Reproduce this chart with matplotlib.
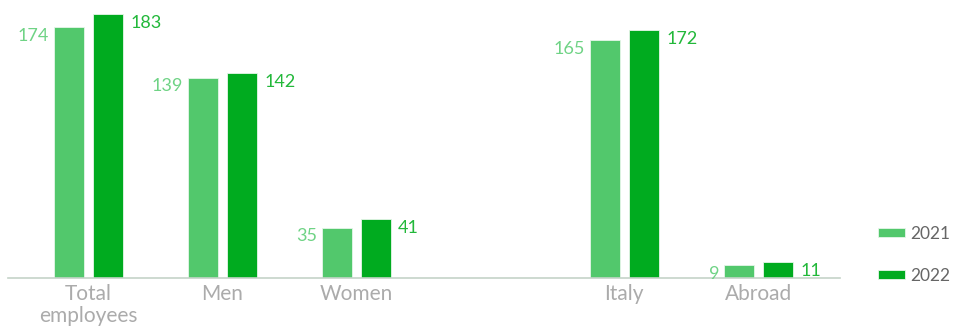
import matplotlib.pyplot as plt
import numpy as np

# headcount by category
categories = ["Total\nemployees", "Men", "Women", "Italy", "Abroad"]
values_2021 = [174, 139, 35, 165, 9]
values_2022 = [183, 142, 41, 172, 11]
years = ["2021", "2022"]

c21 = "#52c86c"
c22 = "#00ab1f"
lab21 = "#6fd385"
lab22 = "#22b83a"

plt.rcParams['font.family'] = ['Lato', 'DejaVu Sans']

fig = plt.figure(figsize=(9.56, 3.36), dpi=100)
ax = fig.add_axes([8 / 956, 58 / 336, 832 / 956, 274 / 336])

# leave an empty slot between the gender and location groups
pos = np.array([0, 1, 2, 4, 5])
w = 0.224
off = 0.145

b1 = ax.bar(pos - off, values_2021, w, color=c21, edgecolor="#e6f6e9", linewidth=0.6, label=years[0])
b2 = ax.bar(pos + off, values_2022, w, color=c22, edgecolor="#e6f6e9", linewidth=0.6, label=years[1])

for x, v in zip(pos, values_2021):
    ax.text(x - off - w / 2 - 0.035, v - 6, str(v), ha="right", va="center",
            color=lab21, fontsize=13)
for x, v in zip(pos, values_2022):
    ax.text(x + off + w / 2 + 0.055, v - 6, str(v), ha="left", va="center",
            color=lab22, fontsize=13)

ax.set_xlim(-0.6, 5.61)
ax.set_ylim(0, 190)
ax.set_xticks(pos)
ax.set_xticklabels(categories, color="#ababab", fontsize=15, linespacing=1.15)
ax.tick_params(axis="x", length=0, pad=4)
ax.set_yticks([])
for s in ["top", "right", "left"]:
    ax.spines[s].set_visible(False)
ax.spines["bottom"].set_color("#c5d3c8")
ax.spines["bottom"].set_linewidth(1.2)

fig.legend(handles=[b1, b2], labels=years, loc="upper left",
           bbox_to_anchor=(862 / 956, 1 - 210 / 336), frameon=False,
           fontsize=12.5, handlelength=1.6, handleheight=0.4, handletextpad=0.3,
           labelspacing=1.5, labelcolor="#666666")

fig.savefig("out.png", dpi=100)
